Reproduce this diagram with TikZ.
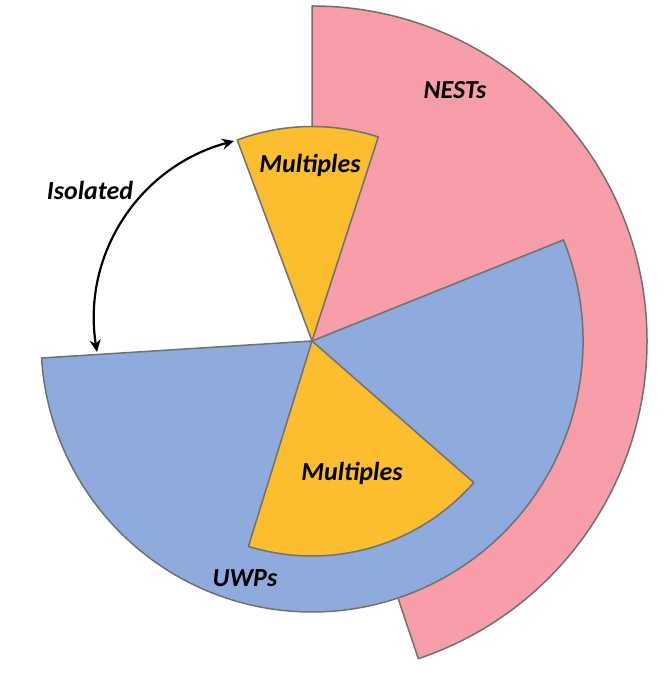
\documentclass[tikz,border=0pt]{standalone}
\usepackage{fontspec}
\setmainfont{Carlito}
\usetikzlibrary{arrows.meta}
\definecolor{pinkf}{RGB}{247,158,168}
\definecolor{bluef}{RGB}{143,170,220}
\definecolor{goldf}{RGB}{252,189,46}
\definecolor{edgec}{RGB}{112,112,112}
\tikzset{
  sector/.style={draw=edgec, line width=1.5pt, line join=round},
  lbl/.style={font=\fontsize{26}{30}\selectfont\bfseries\itshape, text=black},
  arr/.style={line width=2.2pt, {Stealth[length=12pt,width=11pt]}-{Stealth[length=12pt,width=11pt]}}
}
\begin{document}
\begin{tikzpicture}[x=1pt,y=1pt]
\useasboundingbox (0,0) rectangle (668,676);
\coordinate (c) at (312,335);
% pink NESTs
\fill[pinkf] (c) -- ++(90:335) arc[start angle=90, end angle=-71.5, radius=335] -- cycle;
\draw[sector] (c) ++(90:335) arc[start angle=90, end angle=-71.5, radius=335] -- (c) -- cycle;
% blue UWPs
\filldraw[sector, fill=bluef] (c) -- ++(21.9:271) arc[start angle=21.9, end angle=-176.4, radius=271] -- cycle;
% yellow top
\filldraw[sector, fill=goldf] (c) -- ++(110.4:214.5) arc[start angle=110.4, end angle=72, radius=214.5] -- cycle;
% yellow bottom
\filldraw[sector, fill=goldf] (c) -- ++(-41.2:215) arc[start angle=-41.2, end angle=-107.2, radius=215] -- cycle;
% arrow
\coordinate (a1) at (97,324);
\coordinate (a2) at (234,535);
\draw[arr] (a1) to[bend left=42] (a2);
% labels
\node[lbl] (nests) at (455,586) {NESTs};
\node[lbl] (m1) at (310,511) {Multiples};
\node[lbl] (iso) at (90,486) {Isolated};
\node[lbl] (m2) at (352,203) {Multiples};
\node[lbl] (uwps) at (245,98) {UWPs};
\end{tikzpicture}
\end{document}
